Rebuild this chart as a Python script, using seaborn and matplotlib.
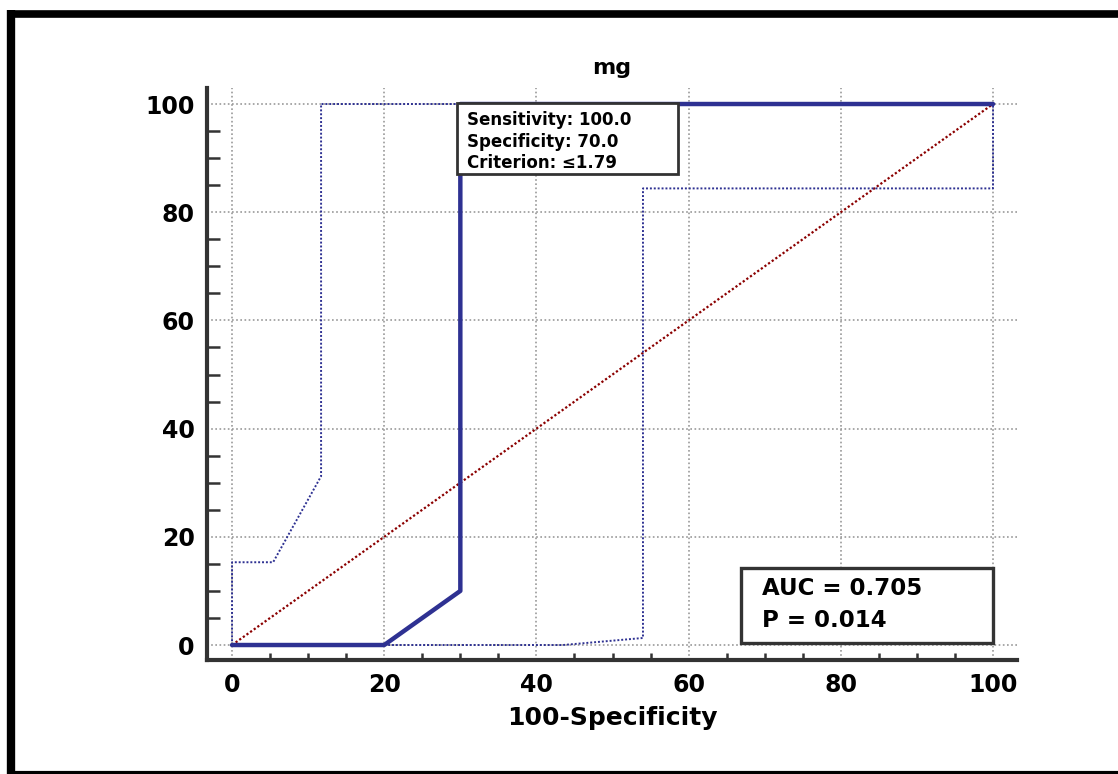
import matplotlib
matplotlib.use("Agg")
import matplotlib.pyplot as plt
import matplotlib.lines as mlines
from matplotlib.patches import Rectangle
import seaborn as sns
from matplotlib.ticker import MultipleLocator

# ROC curve and confidence bounds (100-Specificity, Sensitivity)
roc_x = [0, 20, 30, 30, 100]
roc_y = [0, 0, 10, 100, 100]
upper_x = [0, 0, 5.4, 11.7, 11.7, 30]
upper_y = [0, 15.3, 15.3, 31.2, 100, 100]
lower_x = [20, 43.5, 54.0, 54.0, 100, 100]
lower_y = [0, 0, 1.3, 84.4, 84.4, 100]
diag = [0, 100]

title = "mg"
xlabel = "100-Specificity"
ticks = [0, 20, 40, 60, 80, 100]
point_text = "Sensitivity: 100.0\nSpecificity: 70.0\nCriterion: \u22641.79"
auc_text = "AUC = 0.705\nP = 0.014"

sns.set_theme(style="white")
plt.rcParams['font.family'] = ['DejaVu Sans']
plt.rcParams['font.weight'] = 'bold'
plt.rcParams['text.color'] = 'black'
plt.rcParams['axes.labelcolor'] = 'black'

fig = plt.figure(figsize=(11.18, 7.74), dpi=100)
ax = fig.add_axes([207 / 1118, 1 - 660 / 774, 810 / 1118, 572 / 774])

navy = "#2E3192"
ax.grid(True, which="major", color="#999999", linestyle=(0, (1, 1.5)), linewidth=1.2)
ax.set_axisbelow(True)

ax.plot(diag, diag, color="#8B0000", linestyle=(0, (1, 1)), linewidth=1.6, zorder=3)
sns.lineplot(x=upper_x, y=upper_y, sort=False, estimator=None, ax=ax,
             color=navy, linestyle=(0, (1, 1)), linewidth=1.4, zorder=3)
sns.lineplot(x=lower_x, y=lower_y, sort=False, estimator=None, ax=ax,
             color=navy, linestyle=(0, (1, 1)), linewidth=1.4, zorder=3)
sns.lineplot(x=roc_x, y=roc_y, sort=False, estimator=None, ax=ax,
             color=navy, linewidth=3.2, zorder=4)

ax.set_xlim(-3.29, 103.15)
ax.set_ylim(-2.77, 102.96)
ax.set_xticks(ticks)
ax.set_yticks(ticks)
ax.xaxis.set_minor_locator(MultipleLocator(5))
ax.yaxis.set_minor_locator(MultipleLocator(5))
for s in ["top", "right"]:
    ax.spines[s].set_visible(False)
for s in ["left", "bottom"]:
    ax.spines[s].set_linewidth(3)
    ax.spines[s].set_color("#333333")
ax.tick_params(axis="x", which="major", direction="in", length=11, width=3, color="#333333",
               labelsize=17, pad=9, labelcolor="black")
ax.tick_params(axis="y", which="major", direction="in", length=17, width=3, color="#333333",
               labelsize=17, pad=9, labelcolor="black")
ax.tick_params(axis="x", which="minor", direction="in", length=5, width=1.8, color="#333333", bottom=True)
ax.tick_params(axis="y", which="minor", direction="in", length=9, width=1.8, color="#333333", left=True)
for lab in ax.get_xticklabels() + ax.get_yticklabels():
    lab.set_fontweight("bold")

ax.set_title(title, fontsize=16, fontweight="bold", pad=10, color="black")
ax.set_xlabel(xlabel, fontsize=18, fontweight="bold", labelpad=7, color="black")

# operating point box
ax.add_patch(Rectangle((29.6, 87.1), 29.0, 13.1, facecolor="white", edgecolor="#333333",
                       linewidth=2, zorder=6))
ax.text(30.9, 98.7, point_text, fontsize=12, fontweight="bold", va="top", ha="left",
        linespacing=1.25, zorder=7, color="black")

# AUC box
ax.add_patch(Rectangle((66.9, 0.4), 33.1, 13.8, facecolor="white", edgecolor="#333333",
                       linewidth=2.4, zorder=6))
ax.text(69.7, 12.6, auc_text, fontsize=16.5, fontweight="bold", va="top", ha="left",
        linespacing=1.5, zorder=7, color="black")

# outer frame (left, top, bottom edges)
W, H = 1118, 774
fig.add_artist(mlines.Line2D([11 / W, 11 / W], [0, 1 - 10 / H], color="black", linewidth=6,
                             transform=fig.transFigure, solid_capstyle="butt"))
fig.add_artist(mlines.Line2D([8 / W, 1], [1 - 13.5 / H, 1 - 13.5 / H], color="black", linewidth=5.5,
                             transform=fig.transFigure, solid_capstyle="butt"))
fig.add_artist(mlines.Line2D([8 / W, 1], [1.5 / H, 1.5 / H], color="black", linewidth=3,
                             transform=fig.transFigure, solid_capstyle="butt"))

fig.savefig("out.png", dpi=100)
